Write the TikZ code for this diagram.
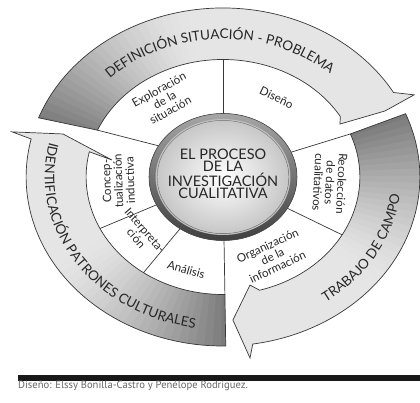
\documentclass[tikz,border=0pt]{standalone}
\usepackage{fontspec}
\setmainfont{Lato}
\newfontfamily\capfont{PT Sans}
\usetikzlibrary{decorations.text}
\newcommand\bandfont{\fontsize{13.5}{14}\selectfont\color{black!85}}
\begin{document}
\begin{tikzpicture}[x=1pt,y=1pt,
  outl/.style={draw=black!78, line width=0.7pt},
  seglabel/.style={align=center, font=\fontsize{11.6}{11.8}\selectfont, text=black!85, inner sep=0pt},
  topbandp/.style={insert path={(159.5:169) arc[start angle=159.5, end angle=30, radius=169] -- (26.6:183.5) -- (25.4:154) -- (27.8:113.5) -- (31:117.5) arc[start angle=31, end angle=156.5, radius=117.5] -- cycle}},
  rightbandp/.style={insert path={(21.5:117.5) -- (22:169) arc[start angle=22, end angle=-81.3, radius=169] -- (-82.7:182.5) -- (-86.6:143.3) -- (-77.9:110.5) -- (-74.5:117.5) arc[start angle=-74.5, end angle=21.5, radius=117.5] -- cycle}},
  leftbandp/.style={insert path={(-89.2:117.5) -- (-89.2:169) arc[start angle=-89.2, end angle=-193, radius=169] -- (-194:186.6) -- (-197.4:143.9) -- (-190.1:96.8) -- (-192.4:117.5) arc[start angle=-192.4, end angle=-89.2, radius=117.5] -- cycle}},
]
\useasboundingbox (-223,-225) rectangle (197,177);

\begin{scope}[xscale=1.165]
  % ---- bands: light base
  \fill[black!10, topbandp];
  \fill[black!10, rightbandp];
  \fill[black!10, leftbandp];
  % ---- gradients at the start of each band
  \begin{scope}
    \clip[topbandp];
    \foreach \k in {0,...,23}{
      \pgfmathsetmacro\aa{161-\k*2.5}
      \pgfmathsetmacro\bb{\aa-2.9}
      \pgfmathsetmacro\cc{10+42*(1-\k/24)^1.4}
      \fill[black!\cc] (0,0) -- (\aa:200) arc[start angle=\aa, end angle=\bb, radius=200] -- cycle;
    }
  \end{scope}
  \begin{scope}
    \clip[rightbandp];
    \foreach \k in {0,...,23}{
      \pgfmathsetmacro\aa{23-\k*2.5}
      \pgfmathsetmacro\bb{\aa-2.9}
      \pgfmathsetmacro\cc{10+42*(1-\k/24)^1.4}
      \fill[black!\cc] (0,0) -- (\aa:200) arc[start angle=\aa, end angle=\bb, radius=200] -- cycle;
    }
  \end{scope}
  \begin{scope}
    \clip[leftbandp];
    \foreach \k in {0,...,23}{
      \pgfmathsetmacro\aa{-88-\k*2.5}
      \pgfmathsetmacro\bb{\aa-2.9}
      \pgfmathsetmacro\cc{10+42*(1-\k/24)^1.4}
      \fill[black!\cc] (0,0) -- (\aa:200) arc[start angle=\aa, end angle=\bb, radius=200] -- cycle;
    }
  \end{scope}
  % ---- band outlines
  \path[outl, topbandp];
  \path[outl, rightbandp];
  \path[outl, leftbandp];
  % ---- ring dividers
  \draw[outl] (150.6:63.5) -- (156.5:117.5);
  \draw[outl] (90:63.5) -- (90:117.5);
  \draw[outl] (23:63.5) -- (21.5:117.5);
  \draw[outl] (-29.5:63.5) -- (-29.5:117.5);
  \draw[outl] (-89.2:63.5) -- (-89.2:117.5);
  \draw[outl] (-125.5:63.5) -- (-125.5:117.5);
  \draw[outl] (-154:63.5) -- (-154:117.5);
  % ---- central circle
  \fill[top color=black!35, bottom color=black!75] (0,0) circle[radius=63.5];
  \draw[black!70, line width=0.6pt] (0,0) circle[radius=63.5];
  \draw[black!25, line width=1.4pt] (0,0) circle[radius=57.3];
  \fill[inner color=white, outer color=black!22] (0,0) circle[radius=56.5];
  \draw[black!45, line width=0.4pt] (0,0) circle[radius=56.5];
  \node[align=center, font=\fontsize{14.5}{12.4}\selectfont, text=black!85] (centre) at (0,3) {EL PROCESO\\DE LA\\INVESTIGACIÓN\\CUALITATIVA};
  % ---- segment labels
  \node[seglabel, rotate=29] (lexp) at (123:92) {Exploración\\de la\\situación};
  \node[seglabel, rotate=-26] (ldis) at (60:92) {Diseño};
  \node[seglabel, rotate=-93] (lrec) at (-3.7:92) {Recolección\\de datos\\cualitativos};
  \node[seglabel, rotate=25] (lorg) at (-61.8:90) {Organización\\de la\\información};
  \node[seglabel, rotate=-16] (lana) at (-108.8:98) {Análisis};
  \node[seglabel, rotate=-49] (lint) at (-141:91) {Interpreta-\\ción};
  \node[seglabel, rotate=92] (lcon) at (182.5:90) {Concep-\\tualización\\inductiva};
\end{scope}

% ---- curved band texts (elliptical baselines)
\path[decorate, decoration={text along path, text align=center,
  text={|\bandfont|DEFINICIÓN SITUACIÓN - PROBLEMA}}]
  ({160.77*cos(151.5)},{138*sin(151.5)}) arc[start angle=151.5, end angle=31.5, x radius=160.77, y radius=138];
\path[decorate, decoration={text along path, text align=center,
  text={|\bandfont|TRABAJO DE CAMPO}}]
  ({178.25*cos(-60)},{153*sin(-60)}) arc[start angle=-60, end angle=-1, x radius=178.25, y radius=153];
\path[decorate, decoration={text along path, text align=center,
  text={|\bandfont|IDENTIFICACIÓN PATRONES CULTURALES}}]
  ({178.25*cos(168)},{153*sin(168)}) arc[start angle=168, end angle=260, x radius=178.25, y radius=153];

% ---- bottom rule and caption
\fill[black!90] (-205,-198) rectangle (197,-203.5);
\node[anchor=west, inner sep=0pt, text=black!60, font=\capfont\fontsize{10.6}{12}\selectfont] (caption) at (-205,-208.5) {Diseño: Elssy Bonilla-Castro y Penélope Rodríguez.};
\end{tikzpicture}
\end{document}
